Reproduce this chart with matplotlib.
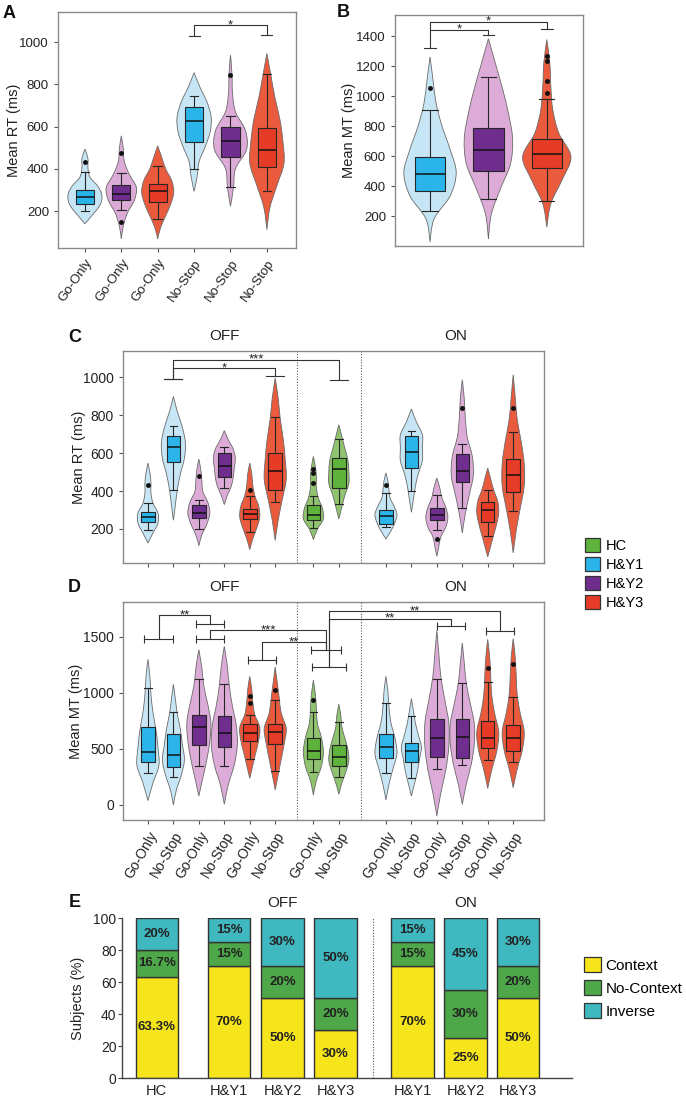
import numpy as np
import matplotlib
matplotlib.use('Agg')
import matplotlib.pyplot as plt
from matplotlib.path import Path
from matplotlib.patches import PathPatch, Patch
import matplotlib.transforms as mtransforms

plt.rcParams['font.family'] = ['Liberation Sans', 'DejaVu Sans']

# ====================== DATA ======================
# box stats rows: [whisker low, Q1, median, Q3, whisker high]
# violin density profiles: relative half-widths sampled evenly from violin min to max
group_names = ['HC', 'H&Y1', 'H&Y2', 'H&Y3']

# ---- Panel A: Mean RT (ms)
a_cond = ['Go-Only', 'Go-Only', 'Go-Only', 'No-Stop', 'No-Stop', 'No-Stop']
a_group = ['H&Y1', 'H&Y2', 'H&Y3', 'H&Y1', 'H&Y2', 'H&Y3']
a_box = [[198, 235, 266, 298, 387], [203, 254, 280, 324, 380], [162, 243, 293, 327, 414],
         [400, 529, 627, 691, 746], [312, 458, 532, 600, 652], [293, 408, 487, 592, 849]]
a_fliers = [[431], [477, 147], [], [], [844], []]
a_vrange = [[140, 493], [68, 556], [68, 509], [293, 855], [222, 938], [112, 946]]
a_dens = [[0, 8, 15, 17, 13, 5, 3, 3, 0], [0, 2, 6, 13, 15, 8, 3, 2, 0],
          [0, 3, 8, 13, 16, 14, 8, 4, 0], [0, 3, 5, 11, 16, 17, 13, 6, 0],
          [0, 3, 5, 16, 15, 5, 2, 1.5, 0], [0, 3, 10, 17, 16, 13, 8, 4, 0]]

# ---- Panel B: Mean MT (ms)
b_group = ['H&Y1', 'H&Y2', 'H&Y3']
b_box = [[233, 367, 478, 594, 910], [315, 498, 643, 790, 1128], [300, 523, 616, 716, 981]]
b_fliers = [[1055], [], [1266, 1233, 1102, 1024]]
b_vrange = [[26, 1262], [49, 1384], [126, 1378]]
b_dens = [[0, 4, 20, 26, 20, 12, 6, 3, 0], [0, 3, 12, 22, 24, 20, 14, 7, 0],
          [0, 4, 15, 24, 12, 6, 4, 3, 0]]

# ---- Panels C/D layout of groups (OFF H&Y, HC, ON H&Y)
cd_cond = ['Go-Only', 'No-Stop'] * 7
cd_group = ['H&Y1', 'H&Y1', 'H&Y2', 'H&Y2', 'H&Y3', 'H&Y3', 'HC', 'HC',
            'H&Y1', 'H&Y1', 'H&Y2', 'H&Y2', 'H&Y3', 'H&Y3']

# ---- Panel C: Mean RT (ms)
c_box = [[196, 235, 263, 291, 337], [405, 551, 630, 691, 744],
         [200, 258, 284, 328, 354], [416, 472, 530, 600, 632],
         [184, 253, 281, 307, 372], [342, 407, 504, 600, 789],
         [205, 249, 275, 325, 372], [333, 416, 516, 574, 674],
         [209, 228, 267, 302, 389], [402, 521, 604, 691, 718],
         [196, 249, 275, 310, 381], [311, 446, 507, 596, 649],
         [161, 237, 298, 342, 404], [296, 393, 482, 570, 711]]
c_fliers = [[430], [], [477], [], [407], [], [516, 495, 442], [],
            [433], [], [147], [837], [], [837]]
c_vrange = [[126, 547], [246, 898], [112, 568], [328, 718], [91, 547], [140, 995],
            [144, 582], [253, 749], [147, 495], [288, 832], [56, 468], [179, 986],
            [53, 521], [74, 1012]]
c_dens = [[0, 5, 10, 10, 5, 3, 3, 2, 0], [0, 2, 4, 7, 11, 12, 9, 4, 0],
          [0, 3, 8, 11, 9, 4, 3, 2, 0], [0, 3, 7, 9, 10, 11, 9, 4, 0],
          [0, 3, 7, 10, 9, 5, 3, 2, 0], [0, 3, 7, 11, 10, 8, 5, 3, 0],
          [0, 4, 10, 9, 5, 3, 3, 2, 0], [0, 3, 6, 10, 10, 9, 6, 3, 0],
          [0, 5, 9, 11, 8, 4, 3, 2, 0], [0, 2, 4, 7, 11, 11, 11, 5, 0],
          [0, 2, 4, 9, 11, 9, 5, 3, 0], [0, 3, 7, 11, 10, 5, 3, 2, 0],
          [0, 3, 6, 9, 11, 10, 6, 3, 0], [0, 3, 7, 11, 11, 8, 4, 2, 0]]

# ---- Panel D: Mean MT (ms)
d_box = [[282, 380, 469, 692, 1048], [246, 341, 445, 630, 832],
         [347, 535, 698, 802, 1129], [347, 520, 639, 793, 1078],
         [407, 570, 644, 719, 802], [303, 544, 650, 722, 941],
         [291, 407, 484, 594, 826], [249, 350, 428, 535, 742],
         [282, 416, 520, 633, 912], [238, 380, 481, 549, 796],
         [318, 425, 600, 772, 1129], [356, 416, 603, 772, 1093],
         [401, 505, 594, 751, 1099], [386, 484, 594, 713, 965]]
d_fliers = [[], [], [], [], [971, 912], [1025], [936], [], [], [], [], [], [1227], [1262]]
d_vrange = [[39, 1301], [0, 1078], [80, 1387], [6, 1417], [238, 1149], [134, 1233],
            [89, 1114], [95, 900], [45, 1149], [80, 950], [-98, 1559], [6, 1446],
            [148, 1479], [154, 1485]]
d_dens = [[0, 5, 11, 10, 8, 5, 3, 2, 0], [0, 3, 8, 11, 9, 7, 4, 2, 0],
          [0, 4, 8, 11, 12, 9, 5, 3, 0], [0, 4, 10, 13, 12, 8, 5, 3, 0],
          [0, 3, 6, 9, 10, 5, 3, 2, 0], [0, 3, 6, 9, 11, 6, 4, 2, 0],
          [0, 3, 8, 10, 8, 4, 3, 2, 0], [0, 3, 7, 10, 9, 6, 3, 2, 0],
          [0, 3, 7, 11, 9, 5, 3, 2, 0], [0, 3, 6, 8, 10, 7, 4, 2, 0],
          [0, 4, 9, 12, 12, 8, 4, 2, 0], [0, 4, 9, 12, 12, 8, 4, 2, 0],
          [0, 4, 9, 11, 7, 4, 3, 2, 0], [0, 4, 9, 11, 7, 4, 3, 2, 0]]

# significance: pair bars (x0, x1, y) and links (bar_a, bar_b, y_top, label) in D
d_bars = [(-0.15, 1.0, 1485), (1.9, 3.0, 1619), (1.9, 3.0, 1479), (3.95, 5.05, 1298),
          (6.4, 7.6, 1387), (6.45, 7.8, 1233), (11.35, 12.45, 1598), (13.3, 14.4, 1550)]
d_links = [(0, 1, 1693, '**'), (2, 4, 1559, '***'), (3, 4, 1455, '**'),
           (5, 6, 1663, '**'), (5, 7, 1729, '**')]

# ---- Panel E: Subjects (%)
e_groups = ['HC', 'H&Y1', 'H&Y2', 'H&Y3', 'H&Y1', 'H&Y2', 'H&Y3']
e_context = [63.3, 70, 50, 30, 70, 25, 50]
e_nocontext = [16.7, 15, 20, 20, 15, 30, 20]
e_inverse = [20, 15, 30, 50, 15, 45, 30]

# ====================== STYLE ======================
vcol = {'H&Y1': '#c6e6f5', 'H&Y2': '#dcabd7', 'H&Y3': '#ea5a3c', 'HC': '#8fc36f'}
bcol = {'H&Y1': '#2bb4e9', 'H&Y2': '#6f2e8e', 'H&Y3': '#e63b26', 'HC': '#5fb33c'}
ecol = ['#f6e51b', '#4ea849', '#3fb8bf']
SPINE = '#8a8a8a'
LINE = '#333333'

W, H = 686, 1101
fig = plt.figure(figsize=(W / 100, H / 100), dpi=100)


def px_axes(l, t, r, b):
    return fig.add_axes([l / W, 1 - b / H, (r - l) / W, (b - t) / H])


def bez(pts):
    verts = [tuple(pts[0])]
    codes = [Path.MOVETO]
    n = len(pts)
    for i in range(n - 1):
        p0 = pts[i - 1] if i > 0 else pts[i]
        p1, p2 = pts[i], pts[i + 1]
        p3 = pts[i + 2] if i + 2 < n else pts[i + 1]
        c1 = p1 + (p2 - p0) / 6.0
        c2 = p2 - (p3 - p1) / 6.0
        verts += [tuple(c1), tuple(c2), tuple(p2)]
        codes += [Path.CURVE4] * 3
    return verts, codes


def draw_violin(ax, p, lo, hi, dens, scale, color):
    d = np.asarray(dens, float) * scale
    y = np.linspace(lo, hi, len(d))
    right = np.column_stack([p + d, y])
    left = np.column_stack([p - d, y])[::-1]
    v1, c1 = bez(right)
    v2, c2 = bez(left)
    verts = v1 + v2[1:] + [v1[0]]
    codes = c1 + c2[1:] + [Path.CLOSEPOLY]
    ax.add_patch(PathPatch(Path(verts, codes), facecolor=color, edgecolor='#6a6a6a',
                           linewidth=0.6, zorder=1))


def violin_panel(ax, pos, groups, box, fliers, vrange, dens, scale, boxw, capw):
    for p, g, (lo, hi), d in zip(pos, groups, vrange, dens):
        draw_violin(ax, p, lo, hi, d, scale, vcol[g])
    stats = [dict(whislo=s[0], q1=s[1], med=s[2], q3=s[3], whishi=s[4], fliers=f)
             for s, f in zip(box, fliers)]
    lp = dict(color='#262626', linewidth=0.8)
    b = ax.bxp(stats, positions=pos, widths=boxw, capwidths=capw, patch_artist=True,
               manage_ticks=False,
               boxprops=dict(edgecolor='#262626', linewidth=0.8),
               medianprops=dict(color='#111111', linewidth=1.1),
               whiskerprops=lp, capprops=lp,
               flierprops=dict(marker='o', markersize=2.5, markerfacecolor='#111111',
                               markeredgecolor='#111111', linestyle='none'))
    for patch, g in zip(b['boxes'], groups):
        patch.set_facecolor(bcol[g])
        patch.set_zorder(2)
    for key in ('whiskers', 'caps', 'medians', 'fliers'):
        for art in b[key]:
            art.set_zorder(3)


def style_frame(ax, labelsize):
    for s in ax.spines.values():
        s.set_color(SPINE)
        s.set_linewidth(1.0)
    ax.tick_params(direction='out', length=3, width=0.8, color='#555555',
                   labelsize=labelsize, labelcolor='#222222')


def leg_bracket(ax, x0, x1, y, y0, y1, text, cap):
    ax.plot([x0, x0, x1, x1], [y0, y, y, y1], color=LINE, lw=0.8, zorder=4)
    ax.plot([x0 - cap, x0 + cap], [y0, y0], color=LINE, lw=0.8, zorder=4)
    ax.plot([x1 - cap, x1 + cap], [y1, y1], color=LINE, lw=0.8, zorder=4)
    ax.text((x0 + x1) / 2, y, text, ha='center', va='center', fontsize=9.5, color='#222222')


# ---------------- Panel A ----------------
axA = px_axes(58, 12, 296, 248)
posA = list(range(len(a_cond)))
violin_panel(axA, posA, a_group, a_box, a_fliers, a_vrange, a_dens, 1 / 36.3, 0.5, 0.24)
axA.set_xlim(-0.74, 5.8)
axA.set_ylim(25, 1142)
axA.set_yticks([200, 400, 600, 800, 1000])
axA.set_xticks(posA)
axA.set_xticklabels(a_cond, rotation=55, ha='right', rotation_mode='anchor')
style_frame(axA, 9.5)
axA.set_ylabel('Mean RT (ms)', fontsize=10.5, color='#222222')
axA.yaxis.set_label_coords(-0.155, 0.5)
axA.plot([3, 3, 5, 5], [1030, 1080, 1080, 1035], color=LINE, lw=0.8)
axA.plot([2.85, 3.15], [1030, 1030], color=LINE, lw=0.8)
axA.plot([4.85, 5.15], [1035, 1035], color=LINE, lw=0.8)
axA.text(4, 1080, '*', ha='center', va='center', fontsize=9.5, color='#222222')

# ---------------- Panel B ----------------
axB = px_axes(395, 15, 583, 246)
posB = list(range(len(b_group)))
violin_panel(axB, posB, b_group, b_box, b_fliers, b_vrange, b_dens, 1 / 58.0, 0.52, 0.26)
axB.set_xlim(-0.6, 2.62)
axB.set_ylim(0, 1542)
axB.set_yticks([200, 400, 600, 800, 1000, 1200, 1400])
axB.set_xticks([])
style_frame(axB, 9.5)
axB.set_ylabel('Mean MT (ms)', fontsize=10.5, color='#222222')
axB.yaxis.set_label_coords(-0.207, 0.5)
axB.plot([0, 0, 1, 1], [1322, 1444, 1444, 1411], color=LINE, lw=0.8)
axB.plot([0, 0, 2, 2], [1444, 1496, 1496, 1451], color=LINE, lw=0.8)
for x, y in [(0, 1322), (1, 1411), (2, 1451)]:
    axB.plot([x - 0.1, x + 0.1], [y, y], color=LINE, lw=0.8)
axB.text(0.5, 1444, '*', ha='center', va='center', fontsize=9.5, color='#222222')
axB.text(1.0, 1496, '*', ha='center', va='center', fontsize=9.5, color='#222222')

# ---------------- Panels C & D ----------------
posCD = [0, 1, 2, 3, 4, 5, 6.5, 7.5, 9.35, 10.35, 11.35, 12.35, 13.35, 14.35]
seps = [5.87, 8.39]

axC = px_axes(123, 351, 544, 563)
violin_panel(axC, posCD, cd_group, c_box, c_fliers, c_vrange, c_dens, 1 / 25.45, 0.53, 0.3)
axC.set_xlim(-0.98, 15.56)
axC.set_ylim(21, 1137)
axC.set_yticks([200, 400, 600, 800, 1000])
axC.set_xticks(posCD)
axC.set_xticklabels([])
style_frame(axC, 10)
axC.set_ylabel('Mean RT (ms)', fontsize=10.5, color='#222222')
axC.yaxis.set_label_coords(-0.088, 0.5)
for s in seps:
    axC.axvline(s, color='#555555', lw=0.8, ls=(0, (1, 1.5)))
leg_bracket(axC, 1, 7.5, 1091, 989, 986, '***', 0.35)
leg_bracket(axC, 1, 5, 1047, 989, 1007, '*', 0.35)

axD = px_axes(123, 602, 544, 820)
violin_panel(axD, posCD, cd_group, d_box, d_fliers, d_vrange, d_dens, 1 / 25.45, 0.53, 0.3)
axD.set_xlim(-0.98, 15.56)
axD.set_ylim(-134, 1812)
axD.set_yticks([0, 500, 1000, 1500])
axD.set_xticks(posCD)
axD.set_xticklabels(cd_cond, rotation=60, ha='right', rotation_mode='anchor')
style_frame(axD, 10)
axD.set_ylabel('Mean MT (ms)', fontsize=10.5, color='#222222')
axD.yaxis.set_label_coords(-0.095, 0.5)
for s in seps:
    axD.axvline(s, color='#555555', lw=0.8, ls=(0, (1, 1.5)))
for x0, x1, y in d_bars:
    axD.plot([x0, x1], [y, y], color=LINE, lw=0.8, zorder=4)
    axD.plot([x0, x1], [y, y], ls='none', marker='|', ms=6, mew=0.8, color=LINE, zorder=4)
for ia, ib, ytop, txt in d_links:
    xa = (d_bars[ia][0] + d_bars[ia][1]) / 2
    xb = (d_bars[ib][0] + d_bars[ib][1]) / 2
    axD.plot([xa, xa, xb, xb], [d_bars[ia][2], ytop, ytop, d_bars[ib][2]],
             color=LINE, lw=0.8, zorder=4)
    axD.text((xa + xb) / 2, ytop, txt, ha='center', va='center', fontsize=9.5, color='#222222')

for ax in (axC, axD):
    tr = mtransforms.blended_transform_factory(ax.transData, ax.transAxes)
    ax.text(3.0, 1.07, 'OFF', transform=tr, ha='center', va='center', fontsize=11, color='#222222')
    ax.text(12.1, 1.07, 'ON', transform=tr, ha='center', va='center', fontsize=11, color='#222222')

fig.legend(handles=[Patch(facecolor=bcol[g], edgecolor='#333333', linewidth=0.9) for g in group_names],
           labels=group_names, loc='upper left', bbox_to_anchor=(585 / W, 1 - 538 / H),
           frameon=False, fontsize=10.5, handlelength=1.05, handleheight=1.05,
           handletextpad=0.35, labelspacing=0.3, borderpad=0, borderaxespad=0)

# ---------------- Panel E ----------------
axE = px_axes(122, 918, 572, 1078)
posE = [0, 1.35, 2.35, 3.34, 4.78, 5.77, 6.75]
bottoms = np.zeros(len(e_groups))
for vals, col in zip([e_context, e_nocontext, e_inverse], ecol):
    cont = axE.bar(posE, vals, width=0.79, bottom=bottoms, color=col,
                   edgecolor='#333333', linewidth=1.0, zorder=2)
    axE.bar_label(cont, labels=[f'{v:g}%' for v in vals], label_type='center',
                  fontsize=9.5, fontweight='bold', color='#222222')
    bottoms = bottoms + np.asarray(vals)
axE.set_xlim(-0.65, 7.76)
axE.set_ylim(0, 100)
axE.set_yticks([0, 20, 40, 60, 80, 100])
axE.set_xticks(posE)
axE.set_xticklabels(e_groups)
for s in ('top', 'right'):
    axE.spines[s].set_visible(False)
for s in ('left', 'bottom'):
    axE.spines[s].set_color('#444444')
    axE.spines[s].set_linewidth(1.0)
axE.tick_params(axis='y', direction='out', length=3, width=0.8, color='#444444',
                labelsize=10, labelcolor='#222222', pad=1)
axE.tick_params(axis='x', length=0, labelsize=10.5, labelcolor='#222222', pad=4)
axE.set_ylabel('Subjects (%)', fontsize=10.5, color='#222222')
axE.yaxis.set_label_coords(-0.082, 0.5)
axE.plot([4.04, 4.04], [0, 100], color='#555555', lw=0.8, ls=(0, (1, 1.5)))
trE = mtransforms.blended_transform_factory(axE.transData, axE.transAxes)
axE.text(2.35, 1.095, 'OFF', transform=trE, ha='center', va='center', fontsize=11, color='#222222')
axE.text(5.77, 1.095, 'ON', transform=trE, ha='center', va='center', fontsize=11, color='#222222')

fig.legend(handles=[Patch(facecolor=c, edgecolor='#333333', linewidth=0.9) for c in ecol],
           labels=['Context', 'No-Context', 'Inverse'], loc='upper left',
           bbox_to_anchor=(584 / W, 1 - 957 / H), frameon=False, fontsize=11,
           handlelength=1.1, handleheight=1.1, handletextpad=0.3, labelspacing=0.5,
           borderpad=0, borderaxespad=0)

# ---------------- panel letters ----------------
for letter, x, y in [('A', 3, 5), ('B', 337, 4), ('C', 68, 329), ('D', 68, 579), ('E', 69, 894)]:
    fig.text(x / W, 1 - y / H, letter, fontsize=13, fontweight='bold', ha='left', va='top',
             color='#111111')

fig.savefig('out.png', dpi=100)
